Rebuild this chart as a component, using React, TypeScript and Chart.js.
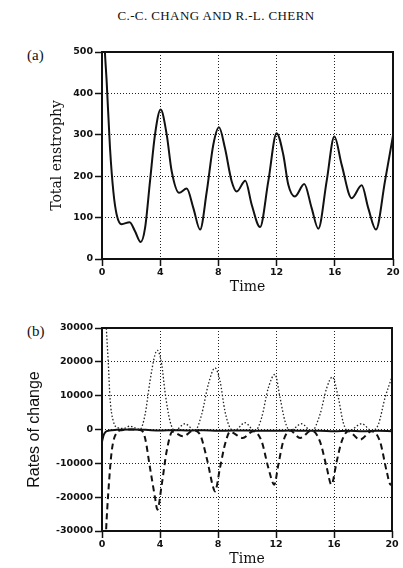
import React, { useEffect, useRef } from "react";
import { Chart, registerables } from "chart.js";

Chart.register(...registerables);

const HEADER = "C.-C. CHANG AND R.-L. CHERN";
const PANEL_A = "(a)";
const PANEL_B = "(b)";
const X_TITLE = "Time";
const Y_TITLE_A = "Total enstrophy";
const Y_TITLE_B = "Rates of change";

// Panel (a): total enstrophy vs time
const enstrophyTime = [0, 0.2, 0.32, 0.55, 0.78, 1.01, 1.35, 1.9, 2.27, 2.66, 2.96, 3.3, 3.64, 4.03, 4.45, 4.79, 5.3, 5.82, 6.28, 6.74, 7.2, 7.65, 8.04, 8.45, 8.91, 9.26, 9.85, 10.29, 10.86, 11.43, 12.0, 12.46, 12.8, 13.26, 13.9, 14.41, 14.87, 15.44, 15.97, 16.47, 17.16, 17.85, 18.3, 18.83, 19.45, 20.0];
const enstrophy = [660, 500, 429, 268, 163, 107, 84, 89, 67, 41, 75, 188, 300, 361, 300, 212, 160, 170, 123, 71, 163, 276, 318, 268, 188, 163, 189, 131, 77, 188, 304, 252, 180, 151, 181, 123, 73, 188, 296, 228, 147, 178, 123, 71, 188, 298];

// Panel (b): rates of change vs time
const dottedTime = [0, 0.3, 0.44, 0.55, 0.78, 1.12, 1.5, 1.93, 2.3, 2.62, 2.97, 3.31, 3.66, 3.82, 4.12, 4.34, 4.69, 5.03, 5.72, 6.41, 6.87, 7.33, 7.79, 8.14, 8.48, 8.83, 9.15, 9.86, 10.55, 11.01, 11.47, 11.93, 12.28, 12.62, 12.97, 13.77, 14.46, 15.03, 15.5, 15.89, 16.3, 16.64, 16.99, 17.91, 18.6, 19.06, 19.52, 19.98];
const dottedRate = [62000, 30000, 19200, 9400, 2460, 500, 300, 1000, 400, 0, 4400, 14300, 22200, 23400, 19200, 11300, 2460, -300, 1700, -300, 4400, 13300, 18200, 14300, 5400, 500, -300, 2000, -500, 3500, 12300, 16300, 9400, 2460, -300, 1700, -500, 4400, 12300, 15500, 9400, 2000, -500, 1700, -300, 1500, 9400, 15300];

const dashedTime = [0, 0.28, 0.44, 0.67, 1.01, 1.36, 2.0, 2.7, 2.97, 3.31, 3.66, 3.82, 4.12, 4.46, 4.85, 5.6, 6.3, 6.76, 7.22, 7.68, 7.79, 8.14, 8.48, 8.83, 9.7, 10.43, 11.01, 11.47, 11.88, 12.16, 12.5, 12.97, 13.66, 14.46, 15.03, 15.5, 15.82, 16.19, 16.53, 16.99, 17.79, 18.6, 19.17, 19.63, 19.9, 20];
const dashedRate = [-62000, -30000, -18300, -6400, -1000, -200, 0, -200, -2500, -11300, -20200, -23700, -16300, -6400, -700, -2000, -300, -1500, -8400, -17300, -18300, -11300, -4400, -700, -2500, -500, -3500, -11300, -16300, -10400, -3500, -300, -2500, -300, -3500, -11300, -16300, -9400, -3500, -500, -3000, -500, -3500, -12300, -16300, -16000];

const solidTime = [0, 0.1, 0.25, 0.5, 1, 2, 3, 4, 5, 6, 7, 8, 9, 10, 11, 12, 13, 14, 15, 16, 17, 18, 19, 20];
const solidRate = [-3600, -1800, -700, -300, -100, 0, -100, -300, -200, -300, -200, -400, -300, -300, -400, -400, -300, -400, -400, -500, -400, -500, -400, -500];

const pts = (xs: number[], ys: number[]) => xs.map((x, i) => ({ x, y: ys[i] }));

const framePlugin = {
  id: "frame",
  afterDatasetsDraw(chart: any) {
    const { ctx, chartArea } = chart;
    const { left, top, right, bottom } = chartArea;
    ctx.save();
    ctx.setLineDash([]);
    ctx.strokeStyle = "#111";
    ctx.lineWidth = 2;
    ctx.strokeRect(left, top, right - left, bottom - top);
    ctx.restore();
  },
};

const tickFont = { family: "'DejaVu Sans'", weight: "bold" as const, size: 9.5 };

function gridOpts() {
  return {
    color: "#222",
    lineWidth: 1,
    borderDash: [1, 2],
    drawTicks: true,
    tickLength: 7,
    tickColor: "#111",
    tickWidth: 1.5,
    tickBorderDash: [],
  };
}

function makeOptions(cfg: {
  yMin: number; yMax: number; yStep: number;
  yTitle: string; yTitleFont: any; yTitlePad: number;
  padTop: number; padRight: number; xHeight: number; xLabelPad: number; xTitlePad: number;
}) {
  return {
    responsive: false,
    animation: false as const,
    devicePixelRatio: 1,
    layout: { padding: { left: 0, right: cfg.padRight, top: cfg.padTop, bottom: 0 } },
    plugins: { legend: { display: false }, tooltip: { enabled: false }, title: { display: false } },
    elements: { point: { radius: 0 } },
    scales: {
      x: {
        type: "linear" as const,
        min: 0,
        max: 20,
        grid: gridOpts(),
        border: { display: false, dash: [1, 2] },
        ticks: { stepSize: 4, font: tickFont, color: "#111", padding: cfg.xLabelPad, maxRotation: 0, callback: (v: any) => String(v) },
        title: { display: true, text: X_TITLE, font: { family: "'DejaVu Serif'", size: 14 }, color: "#111", padding: { top: 0, bottom: cfg.xTitlePad } },
        afterFit: (s: any) => { s.height = cfg.xHeight; },
      },
      y: {
        type: "linear" as const,
        min: cfg.yMin,
        max: cfg.yMax,
        grid: gridOpts(),
        border: { display: false, dash: [1, 2] },
        ticks: { stepSize: cfg.yStep, font: tickFont, color: "#111", padding: 2, callback: (v: any) => String(v) },
        title: { display: true, text: cfg.yTitle, font: cfg.yTitleFont, color: "#111", padding: { top: cfg.yTitlePad, bottom: 0 } },
        afterFit: (s: any) => { s.width = 102; },
      },
    },
  };
}

export default function App() {
  const refA = useRef<HTMLCanvasElement>(null);
  const refB = useRef<HTMLCanvasElement>(null);

  useEffect(() => {
    const chartA = new Chart(refA.current!, {
      type: "line",
      data: {
        datasets: [
          {
            data: pts(enstrophyTime, enstrophy),
            borderColor: "#111",
            borderWidth: 2,
            cubicInterpolationMode: "monotone",
            fill: false,
          },
        ],
      },
      options: makeOptions({
        yMin: 0, yMax: 500, yStep: 100,
        yTitle: Y_TITLE_A,
        yTitleFont: { family: "'DejaVu Serif'", size: 14 },
        yTitlePad: 49,
        padTop: 12, padRight: 10, xHeight: 41, xLabelPad: 1, xTitlePad: 4,
      }) as any,
      plugins: [framePlugin],
    });

    const chartB = new Chart(refB.current!, {
      type: "line",
      data: {
        datasets: [
          {
            data: pts(dottedTime, dottedRate),
            borderColor: "#222",
            borderWidth: 1.3,
            borderDash: [1.5, 2],
            cubicInterpolationMode: "monotone",
            fill: false,
          },
          {
            data: pts(dashedTime, dashedRate),
            borderColor: "#111",
            borderWidth: 2,
            borderDash: [6, 4],
            cubicInterpolationMode: "monotone",
            fill: false,
          },
          {
            data: pts(solidTime, solidRate),
            borderColor: "#111",
            borderWidth: 2,
            cubicInterpolationMode: "monotone",
            fill: false,
          },
        ],
      },
      options: makeOptions({
        yMin: -30000, yMax: 30000, yStep: 10000,
        yTitle: Y_TITLE_B,
        yTitleFont: { family: "'Liberation Sans'", size: 16 },
        yTitlePad: 25,
        padTop: 10, padRight: 11, xHeight: 37, xLabelPad: 1, xTitlePad: 0,
      }) as any,
      plugins: [framePlugin],
    });

    return () => {
      chartA.destroy();
      chartB.destroy();
    };
  }, []);

  const serif = "'Liberation Serif', serif";
  return (
    <div style={{ position: "absolute", left: 0, top: 0, width: 403, height: 568, background: "#fff", overflow: "hidden" }}>
      <div style={{ position: "absolute", left: 0, top: 8, width: 432, textAlign: "center", fontFamily: serif, fontSize: 13, lineHeight: "15px", letterSpacing: 0.4, color: "#111" }}>
        {HEADER}
      </div>
      <div style={{ position: "absolute", left: 27, top: 48, fontFamily: serif, fontSize: 15, lineHeight: "15px", color: "#111" }}>{PANEL_A}</div>
      <div style={{ position: "absolute", left: 27, top: 324, fontFamily: serif, fontSize: 15, lineHeight: "15px", color: "#111" }}>{PANEL_B}</div>
      <canvas ref={refA} width={403} height={260} style={{ position: "absolute", left: 0, top: 40, width: 403, height: 260 }} />
      <canvas ref={refB} width={403} height={250} style={{ position: "absolute", left: 0, top: 318, width: 403, height: 250 }} />
    </div>
  );
}
